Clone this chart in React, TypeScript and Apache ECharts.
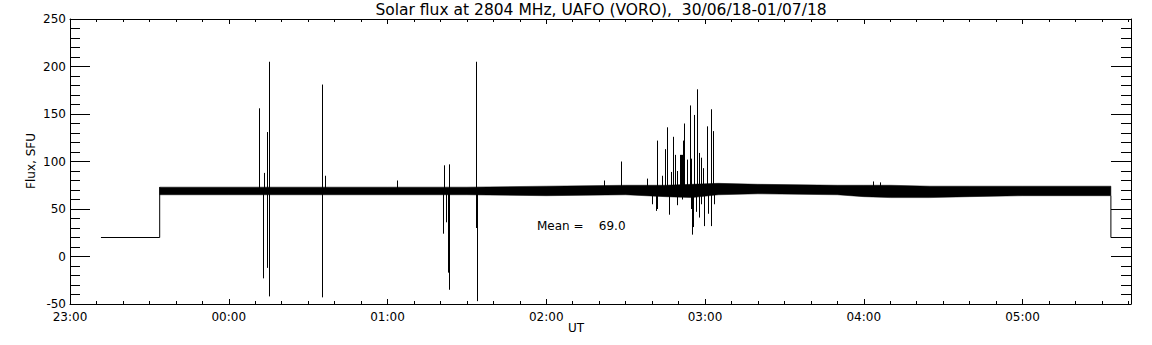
import React, { useEffect, useRef } from "react";
import * as echarts from "echarts";

// ---- texts ----
const TITLE = "Solar flux at 2804 MHz, UAFO (VORO),  30/06/18-01/07/18";
const X_NAME = "UT";
const Y_NAME = "Flux, SFU";
const MEAN_TEXT = "Mean =    69.0";

// ---- axes (x in minutes after 23:00 UT) ----
const START_HOUR = 23;
const X_MIN = 0;
const X_MAX = 401;
const X_MAJOR = 60;
const X_MINOR = 10;
const Y_MIN = -50;
const Y_MAX = 250;
const Y_MAJOR = 50;

// ---- data ----
// flat receiver level before observation start
const leadTimes = [11.7, 33.9, 33.9];
const leadValues = [20, 20, 73];
// after observation end
const tailTimes = [393.4, 393.4, 401.5];
const tailValues = [64, 20, 20];

// envelope of the noisy quiet-Sun band
const bandTimes = [33.9, 60, 90, 120, 150, 180, 210, 225, 235, 245, 260, 290, 300, 310, 325, 340, 360, 393.4];
const bandLow = [65, 65, 65, 65, 65, 64, 65, 63, 62, 65, 66, 65, 63, 62, 62, 63, 64, 64];
const bandHigh = [73, 73, 73, 73, 73, 74, 75, 75, 76, 77, 76, 75, 75, 75, 74, 74, 74, 74];

// individual spikes: time, lowest value, highest value
const spikeTimes = [
  71.6, 73.1, 73.5, 74.3, 74.6, 75.1,
  95.2, 95.4, 96.2, 123.7,
  140.9, 141.2, 142.0, 142.7, 143.1, 143.4, 153.6, 154.0,
  201.8, 208.2,
  218.2, 220.0, 221.3, 221.8, 223.7, 224.8, 225.6, 226.3, 227.1, 227.9,
  228.7, 229.3, 230.4, 230.8, 231.2, 231.7, 232.2, 233.3, 234.2, 234.6,
  235.2, 235.5, 235.8, 236.6, 237.1, 237.6, 237.9, 238.6, 239.2, 239.6,
  240.8, 241.3, 242.1, 242.4, 243.1, 243.5,
  303.5, 306.0,
];
const spikeLow = [
  68, -23, 68, 68, -12, -42,
  -43, 2, 68, 68,
  24, 68, 36, -17, 68, -35, 30, -47,
  68, 68,
  68, 55, 48, 50, 68, 68, 68, 44, 68, 68,
  68, 54, 68, 68, 60, 68, 68, 68, 68, 50,
  23, 31, 68, 47, 68, 68, 41, 55, 68, 32,
  68, 45, 68, 32, 68, 55,
  68, 68,
];
const spikeHigh = [
  156, 68, 88, 131, 122, 205,
  68, 181, 85, 80,
  68, 96, 68, 68, 97, 68, 205, 68,
  80, 100,
  82, 68, 68, 122, 85, 113, 136, 68, 89, 126,
  107, 90, 107, 107, 107, 122, 140, 102, 159, 103,
  68, 68, 149, 68, 176, 109, 68, 104, 93, 68,
  137, 68, 155, 68, 132, 68,
  79, 78,
];

const FONT = "DejaVu Sans";
const BLACK = "#000";

function fmtTime(v: number): string {
  const total = Math.round(v);
  const h = (START_HOUR + Math.floor(total / 60)) % 24;
  const m = total % 60;
  return String(h).padStart(2, "0") + ":" + String(m).padStart(2, "0");
}

export default function App() {
  const ref = useRef<HTMLDivElement>(null);

  useEffect(() => {
    if (!ref.current) return;
    const chart = echarts.init(ref.current, undefined, { renderer: "svg" });

    const line = { color: BLACK, width: 1 };
    const xBase = {
      type: "value" as const,
      min: X_MIN,
      max: X_MAX,
      splitLine: { show: false },
    };
    const yBase = {
      type: "value" as const,
      min: Y_MIN,
      max: Y_MAX,
      interval: Y_MAJOR,
      splitLine: { show: false },
      axisLine: { show: true, onZero: false, lineStyle: line },
      axisTick: { show: true, inside: true, length: 20, lineStyle: line },
      minorTick: { show: true, splitNumber: 5, length: 10, lineStyle: line },
    };

    const option: any = {
      animation: false,
      backgroundColor: "#fff",
      grid: { left: 70, top: 19, width: 1061, height: 285, containLabel: false },
      xAxis: [
        {
          ...xBase,
          position: "bottom",
          interval: X_MAJOR,
          axisLine: { show: true, onZero: false, lineStyle: line },
          axisTick: { show: true, inside: true, length: 5, lineStyle: line },
          axisLabel: {
            show: true,
            formatter: (v: number) => fmtTime(v),
            color: BLACK,
            fontFamily: FONT,
            fontSize: 12,
            margin: 7,
            showMaxLabel: false,
          },
        },
        {
          ...xBase,
          position: "bottom",
          interval: X_MINOR,
          axisLine: { show: false, onZero: false },
          axisTick: { show: true, inside: true, length: 3, lineStyle: line },
          axisLabel: { show: false },
        },
        {
          ...xBase,
          position: "top",
          interval: X_MAJOR,
          axisLine: { show: true, onZero: false, lineStyle: line },
          axisTick: { show: true, inside: true, length: 5, lineStyle: line },
          axisLabel: { show: false },
        },
        {
          ...xBase,
          position: "top",
          interval: X_MINOR,
          axisLine: { show: false, onZero: false },
          axisTick: { show: true, inside: true, length: 3, lineStyle: line },
          axisLabel: { show: false },
        },
      ],
      yAxis: [
        {
          ...yBase,
          position: "left",
          axisLabel: { show: true, color: BLACK, fontFamily: FONT, fontSize: 12, margin: 4 },
        },
        {
          ...yBase,
          position: "right",
          axisLabel: { show: false },
        },
      ],
      series: [
        {
          type: "custom",
          xAxisIndex: 0,
          yAxisIndex: 0,
          silent: true,
          data: [[bandTimes[0], bandLow[0]]],
          renderItem: (_p: any, api: any) => {
            const pts: number[][] = [];
            for (let i = 0; i < bandTimes.length; i++) pts.push(api.coord([bandTimes[i], bandHigh[i]]));
            for (let i = bandTimes.length - 1; i >= 0; i--) pts.push(api.coord([bandTimes[i], bandLow[i]]));
            return { type: "polygon", shape: { points: pts }, style: { fill: BLACK, stroke: BLACK, lineWidth: 0.5 } };
          },
        },
        {
          type: "custom",
          xAxisIndex: 0,
          yAxisIndex: 0,
          silent: true,
          encode: { x: 0, y: [1, 2] },
          data: spikeTimes.map((t, i) => [t, spikeLow[i], spikeHigh[i]]),
          renderItem: (_p: any, api: any) => {
            const a = api.coord([api.value(0), api.value(1)]);
            const b = api.coord([api.value(0), api.value(2)]);
            const x = Math.round(a[0]) + 0.5;
            return {
              type: "line",
              shape: { x1: x, y1: a[1], x2: x, y2: b[1] },
              style: { stroke: BLACK, lineWidth: 1 },
            };
          },
        },
        {
          type: "line",
          xAxisIndex: 0,
          yAxisIndex: 0,
          symbol: "none",
          silent: true,
          lineStyle: { color: BLACK, width: 1 },
          data: leadTimes.map((t, i) => [t, leadValues[i]]),
        },
        {
          type: "line",
          xAxisIndex: 0,
          yAxisIndex: 0,
          symbol: "none",
          silent: true,
          lineStyle: { color: BLACK, width: 1 },
          data: tailTimes.map((t, i) => [t, tailValues[i]]),
        },
      ],
      graphic: [
        {
          type: "text",
          x: 601,
          y: 10,
          style: { text: TITLE, fill: BLACK, fontFamily: FONT, fontSize: 15.5, align: "center", verticalAlign: "middle" },
        },
        {
          type: "text",
          x: 576,
          y: 328,
          style: { text: X_NAME, fill: BLACK, fontFamily: FONT, fontSize: 12, align: "center", verticalAlign: "middle" },
        },
        {
          type: "text",
          x: 31,
          y: 161,
          rotation: Math.PI / 2,
          style: { text: Y_NAME, fill: BLACK, fontFamily: FONT, fontSize: 12, align: "center", verticalAlign: "middle" },
        },
        {
          type: "text",
          x: 537,
          y: 226,
          style: { text: MEAN_TEXT, fill: BLACK, fontFamily: FONT, fontSize: 12, align: "left", verticalAlign: "middle" },
        },
      ],
    };

    chart.setOption(option);
    return () => chart.dispose();
  }, []);

  return (
    <div
      ref={ref}
      style={{ position: "fixed", left: 0, top: 0, width: 1152, height: 345, background: "#fff" }}
    />
  );
}
